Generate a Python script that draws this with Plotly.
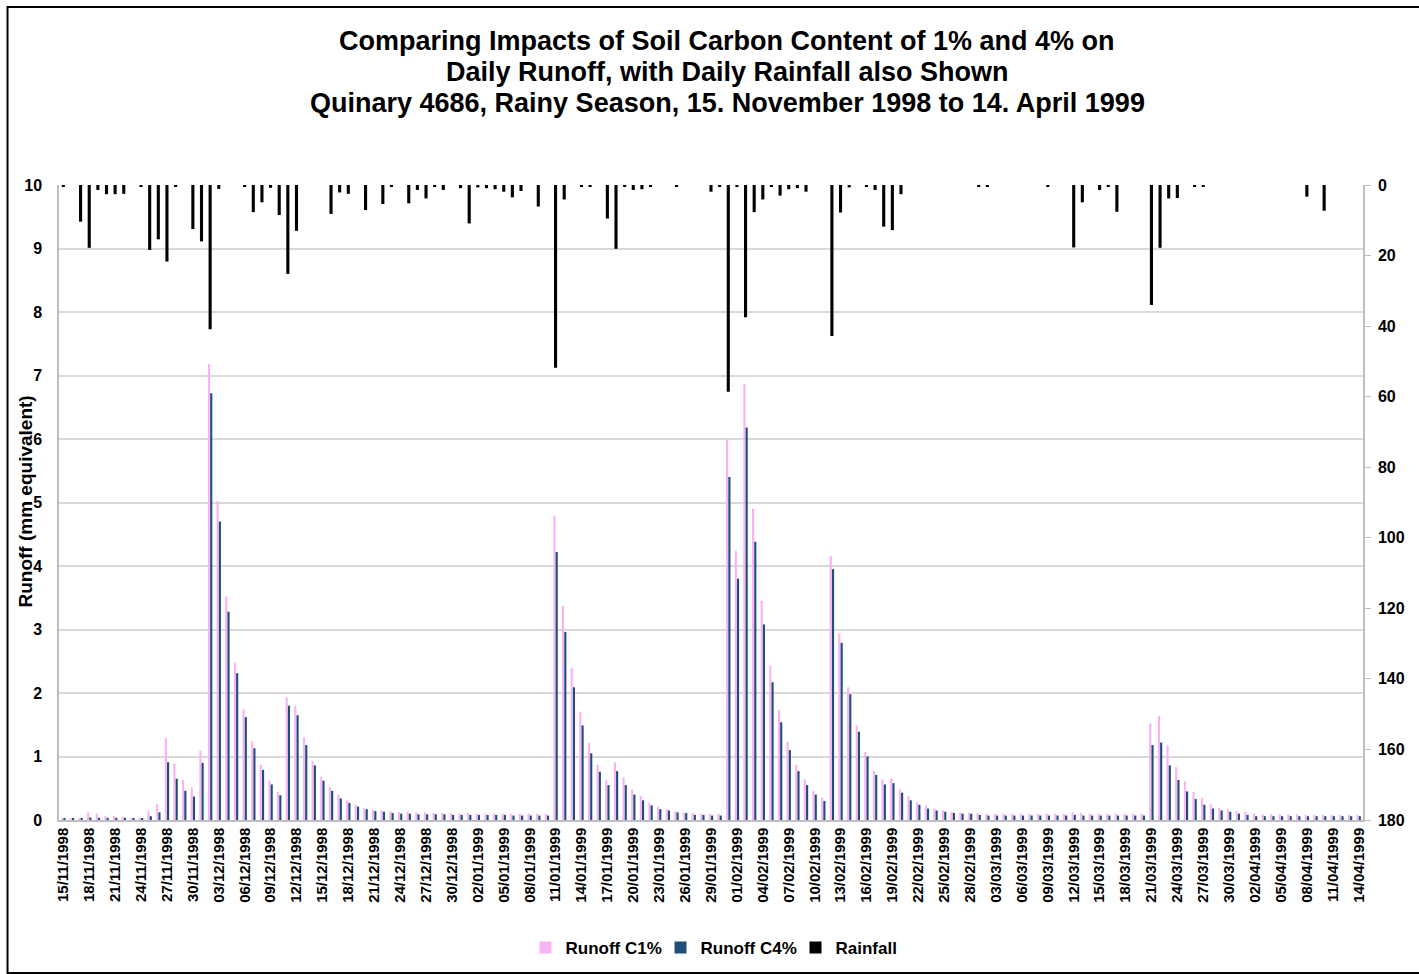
import pandas as pd
import plotly.graph_objects as go

dates = pd.date_range("1998-11-15", "1999-04-14", freq="D").strftime("%d/%m/%Y").tolist()

runoff_c1 = [
    0.02, 0.03, 0.03, 0.12, 0.10, 0.06, 0.06, 0.05, 0.04, 0.04,
    0.15, 0.25, 1.29, 0.89, 0.63, 0.51, 1.09, 7.18, 5.02, 3.52,
    2.48, 1.74, 1.24, 0.87, 0.62, 0.44, 1.93, 1.80, 1.30, 0.93,
    0.68, 0.52, 0.40, 0.31, 0.24, 0.19, 0.16, 0.15, 0.14, 0.13,
    0.13, 0.12, 0.12, 0.11, 0.11, 0.11, 0.10, 0.11, 0.10, 0.10,
    0.10, 0.10, 0.10, 0.10, 0.10, 0.10, 0.10, 4.79, 3.37, 2.39,
    1.70, 1.21, 0.87, 0.63, 0.91, 0.67, 0.48, 0.38, 0.27, 0.21,
    0.17, 0.14, 0.12, 0.11, 0.10, 0.10, 0.10, 6.00, 4.24, 6.87,
    4.90, 3.45, 2.43, 1.73, 1.23, 0.87, 0.64, 0.46, 0.35, 4.16,
    2.94, 2.09, 1.49, 1.07, 0.77, 0.64, 0.65, 0.48, 0.38, 0.28,
    0.23, 0.18, 0.15, 0.13, 0.12, 0.12, 0.11, 0.10, 0.10, 0.10,
    0.10, 0.10, 0.10, 0.10, 0.10, 0.10, 0.10, 0.12, 0.11, 0.10,
    0.10, 0.10, 0.10, 0.10, 0.10, 0.10, 1.52, 1.64, 1.17, 0.83,
    0.61, 0.44, 0.35, 0.25, 0.19, 0.17, 0.14, 0.13, 0.10, 0.09,
    0.09, 0.09, 0.09, 0.09, 0.08, 0.08, 0.08, 0.08, 0.08, 0.08,
    0.08,
]

runoff_c4 = [
    0.02, 0.02, 0.02, 0.04, 0.035, 0.035, 0.035, 0.035, 0.02, 0.02,
    0.06, 0.12, 0.91, 0.65, 0.46, 0.37, 0.90, 6.72, 4.70, 3.28,
    2.31, 1.62, 1.13, 0.79, 0.56, 0.39, 1.80, 1.65, 1.18, 0.86,
    0.62, 0.46, 0.34, 0.27, 0.21, 0.17, 0.14, 0.13, 0.11, 0.10,
    0.10, 0.09, 0.09, 0.09, 0.09, 0.08, 0.08, 0.08, 0.08, 0.08,
    0.08, 0.08, 0.07, 0.07, 0.07, 0.07, 0.07, 4.22, 2.96, 2.09,
    1.49, 1.05, 0.76, 0.55, 0.77, 0.55, 0.40, 0.31, 0.23, 0.17,
    0.15, 0.12, 0.11, 0.08, 0.08, 0.07, 0.07, 5.40, 3.80, 6.18,
    4.38, 3.08, 2.17, 1.54, 1.10, 0.77, 0.55, 0.40, 0.30, 3.95,
    2.79, 1.98, 1.39, 1.00, 0.71, 0.56, 0.58, 0.43, 0.31, 0.24,
    0.18, 0.15, 0.13, 0.11, 0.10, 0.10, 0.08, 0.07, 0.07, 0.07,
    0.07, 0.07, 0.07, 0.07, 0.07, 0.07, 0.07, 0.08, 0.07, 0.07,
    0.07, 0.07, 0.07, 0.07, 0.07, 0.07, 1.18, 1.22, 0.86, 0.63,
    0.45, 0.33, 0.24, 0.18, 0.15, 0.13, 0.10, 0.08, 0.06, 0.06,
    0.06, 0.06, 0.06, 0.06, 0.06, 0.06, 0.06, 0.06, 0.06, 0.06,
    0.06,
]

rainfall = [
    0.3, 0.0, 10.4, 17.8, 1.4, 2.6, 2.6, 2.5, 0.0, 0.3,
    18.4, 15.4, 21.7, 0.3, 0.0, 12.5, 16.0, 40.9, 1.1, 0.0,
    0.0, 0.4, 7.7, 4.9, 0.8, 8.5, 25.2, 13.0, 0.0, 0.0,
    0.0, 8.2, 2.1, 2.5, 0.0, 7.1, 0.0, 5.4, 0.3, 0.0,
    5.2, 1.4, 3.8, 0.3, 1.4, 0.0, 0.9, 10.9, 0.7, 0.9,
    1.2, 1.9, 3.5, 1.7, 0.0, 6.1, 0.0, 51.8, 4.1, 0.0,
    0.3, 0.5, 0.0, 9.5, 18.1, 0.3, 1.4, 1.2, 0.3, 0.0,
    0.0, 0.3, 0.0, 0.0, 0.0, 1.9, 0.3, 58.6, 0.3, 37.5,
    7.7, 4.1, 0.5, 3.0, 1.2, 0.9, 1.9, 0.0, 0.0, 42.8,
    7.8, 0.7, 0.0, 0.3, 1.4, 11.8, 12.8, 2.6, 0.0, 0.0,
    0.0, 0.0, 0.0, 0.0, 0.0, 0.0, 0.3, 0.3, 0.0, 0.0,
    0.0, 0.0, 0.0, 0.0, 0.4, 0.0, 0.0, 17.7, 4.9, 0.0,
    1.4, 0.3, 7.6, 0.0, 0.0, 0.0, 34.0, 17.8, 3.8, 3.7,
    0.0, 0.5, 0.3, 0.0, 0.0, 0.0, 0.0, 0.0, 0.0, 0.0,
    0.0, 0.0, 0.0, 0.0, 3.3, 0.0, 7.3, 0.0, 0.0, 0.0,
    0.0,
]

tick_labels = dates[::3]

title_lines = [
    "Comparing Impacts of Soil Carbon Content of 1% and 4% on",
    "Daily Runoff, with Daily Rainfall also Shown",
    "Quinary 4686, Rainy Season, 15. November 1998 to 14. April 1999",
]

FONT = "Liberation Sans, Arial, sans-serif"
PINK = "#F8B3F5"
BLUE = "#1F4E79"
GRID = "#D9D9D9"
AXIS = "#BFBFBF"

W, H = 1419, 974
L, R, T, B = 58.5, 56, 185, 154
pw = W - L - R
ph = H - T - B


def px_x(x):
    return (x - L) / pw


def px_y(y):
    return (H - B - y) / ph


fig = go.Figure()
fig.add_trace(go.Bar(x=dates, y=runoff_c1, name="<b>Runoff C1%</b>", marker_color=PINK,
                     marker_line_width=0, yaxis="y"))
fig.add_trace(go.Bar(x=dates, y=runoff_c4, name="<b>Runoff C4%</b>", marker_color=BLUE,
                     marker_line_width=0, yaxis="y"))
fig.add_trace(go.Bar(x=dates, y=rainfall, name="<b>Rainfall</b>", marker_color="#000000",
                     marker_line_width=0, width=0.36, yaxis="y2"))

fig.update_layout(
    width=W, height=H,
    margin=dict(l=L, r=R, t=T, b=B, autoexpand=False),
    paper_bgcolor="white", plot_bgcolor="white",
    font=dict(family=FONT, size=16, color="#000000"),
    barmode="group", bargap=0.48, bargroupgap=0.05,
    xaxis=dict(type="category", categoryorder="array", categoryarray=dates,
               tickmode="array", tickvals=tick_labels,
               ticktext=["<b>" + t + "</b>" for t in tick_labels],
               tickangle=-90, tickfont=dict(family=FONT, size=15, color="#000000"),
               showline=True, linecolor=AXIS, linewidth=1.5, showgrid=False,
               ticks="", automargin=False, range=[-0.5, len(dates) - 0.5]),
    yaxis=dict(range=[0, 10], dtick=1, showgrid=True, gridcolor=GRID, gridwidth=1.5,
               showline=True, linecolor=AXIS, linewidth=1.5, zeroline=False,
               ticks="", ticklabelstandoff=12,
               tickfont=dict(family=FONT, size=16, color="#000000"),
               tickprefix="<b>", ticksuffix="</b>", automargin=False),
    yaxis2=dict(range=[180, 0], dtick=20, overlaying="y", side="right",
                showgrid=False, showline=True, linecolor=AXIS, linewidth=1.5,
                zeroline=False, ticks="outside", ticklen=6, tickcolor=AXIS,
                ticklabelstandoff=4,
                tickfont=dict(family=FONT, size=16, color="#000000"),
                tickprefix="<b>", ticksuffix="</b>", automargin=False),
    legend=dict(orientation="h", x=728 / W, xref="container", xanchor="center",
                y=(H - 948) / H, yref="container", yanchor="middle",
                font=dict(family=FONT, size=17, color="#000000"),
                itemwidth=30, entrywidth=90, entrywidthmode="pixels",
                traceorder="normal"),
    showlegend=True,
)

# title, three lines
for line, yc in zip(title_lines, [41, 72, 103]):
    fig.add_annotation(text="<b>" + line + "</b>", showarrow=False,
                       xref="paper", yref="paper", x=px_x(727), y=px_y(yc),
                       xanchor="center", yanchor="middle",
                       font=dict(family=FONT, size=27, color="#000000"))

# left axis title
fig.add_annotation(text="<b>Runoff (mm equivalent)</b>", textangle=-90, showarrow=False,
                   xref="paper", yref="paper", x=px_x(24), y=px_y(502),
                   xanchor="center", yanchor="middle",
                   font=dict(family=FONT, size=19, color="#000000"))

# partially visible right-axis title (cut off by the chart edge, as in the reference)
fig.add_annotation(text="<b>Rainfall (mm)</b>", textangle=-90, showarrow=False,
                   xref="paper", yref="paper", x=px_x(1428), y=px_y(502),
                   xanchor="center", yanchor="middle",
                   font=dict(family=FONT, size=19, color="#000000"))

# chart border
fig.add_shape(type="rect", xref="paper", yref="paper",
              x0=px_x(7), x1=px_x(1500), y0=px_y(973), y1=px_y(7),
              line=dict(color="#000000", width=2), layer="below")

fig.write_html("out.html")
